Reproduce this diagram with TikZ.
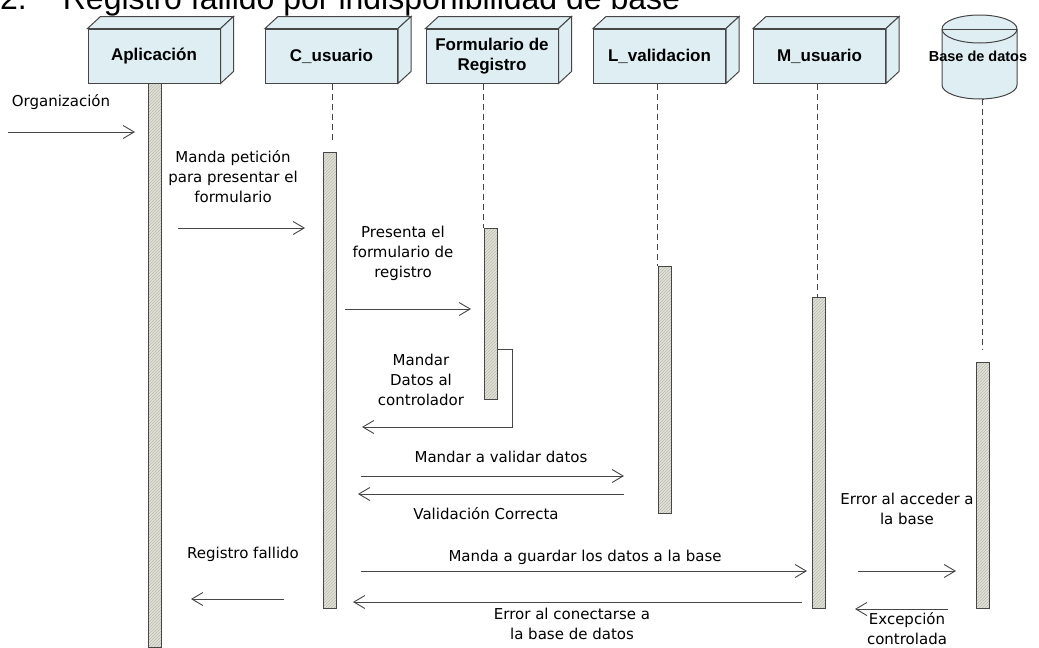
\documentclass[tikz,border=0pt]{standalone}
\usepackage{fontspec}
\setmainfont{Liberation Sans}
\newfontfamily\msgfont{DejaVu Sans}
\usetikzlibrary{arrows.meta,patterns,positioning}

\definecolor{azulcaja}{RGB}{222,238,243}
\definecolor{beigebarra}{RGB}{226,227,212}
\definecolor{lineagris}{RGB}{70,70,70}

\tikzset{
  caja/.style={draw=lineagris, fill=azulcaja, line width=1pt, minimum width=132pt,
    minimum height=54pt, align=center, font=\fontsize{17}{20}\selectfont\bfseries},
  cara/.style={draw=lineagris, fill=azulcaja, line width=1pt},
  barra/.style={draw=lineagris, line width=0.9pt, minimum width=13pt, inner sep=0pt,
    preaction={fill=beigebarra}, pattern=north east lines, pattern color=black!28},
  vida/.style={draw=lineagris, line width=0.8pt, dash pattern=on 6pt off 4pt},
  msj/.style={draw=lineagris, line width=0.9pt,
    -{Straight Barb[length=11pt,width=13pt,line width=0.9pt]}},
  etq/.style={font=\msgfont\fontsize{15}{20}\selectfont, align=center, inner sep=0pt},
}

\begin{document}
\begin{tikzpicture}[x=1pt,y=-1pt]
    \useasboundingbox (0,0) rectangle (1039,648);
    \clip (0,0) rectangle (1039,648);

    % Title (cut at the top)
    \node[anchor=base west, inner sep=0pt, font=\fontsize{32}{38}\selectfont] (titulo) at (0,9)
        {2.\hspace{36pt}Registro fallido por indisponibilidad de base};

    % Objects
    \node[caja] (apl)  at (154,56)   {Aplicación};
    \node[caja] (cusr) at (331.5,56) {C\_usuario};
    \node[caja] (form) at (492,56)   {Formulario de\\Registro};
    \node[caja] (lval) at (659.5,56) {L\_validacion};
    \node[caja] (musr) at (819.5,56) {M\_usuario};

    \foreach \n in {apl,cusr,form,lval,musr} {
        \filldraw[cara] (\n.north west) -- ++(13,-12) -- ([shift={(13,-12)}]\n.north east)
            -- (\n.north east) -- cycle;
        \filldraw[cara] (\n.north east) -- ++(13,-12) -- ([shift={(13,-12)}]\n.south east)
            -- (\n.south east) -- cycle;
    }

    % Database cylinder
    \filldraw[cara] (942,29) -- (942,85) arc[start angle=180, end angle=360, x radius=37.5pt, y radius=14pt]
        -- (1017,29) arc[start angle=0, end angle=180, x radius=37.5pt, y radius=14pt] -- cycle;
    \draw[cara, fill=none] (942,29) arc[start angle=180, end angle=360, x radius=37.5pt, y radius=14pt];
    \draw[cara] (942,29) -- (1017,29);
    \node[font=\fontsize{14.5}{17}\selectfont\bfseries, inner sep=0pt] (bd) at (978,56) {Base de datos};
    \coordinate (bdbase) at (983,99);

    % Activation bars
    \node[barra, anchor=north, minimum height=564pt] (bapl)  at (154.5,83) {};
    \node[barra, anchor=north, minimum height=456pt] (bcusr) at (329.5,152) {};
    \node[barra, anchor=north, minimum height=171pt] (bform) at (490.5,228) {};
    \node[barra, anchor=north, minimum height=247pt] (blval) at (664.5,266) {};
    \node[barra, anchor=north, minimum height=311pt] (bmusr) at (819,297) {};
    \node[barra, anchor=north, minimum height=246pt] (bbd)   at (982.5,362) {};

    % Lifelines
    \draw[vida, shorten >=12pt] ([xshift=2.5pt]bcusr.north |- cusr.south) -- ([xshift=2.5pt]bcusr.north);
    \draw[vida] (bform.north west |- form.south) -- (bform.north west);
    \draw[vida] (blval.north west |- lval.south) -- (blval.north west);
    \draw[vida] ([xshift=-2pt]bmusr.north |- musr.south) -- ([xshift=-2pt]bmusr.north);
    \draw[vida, shorten >=12pt] (bdbase) -- (bbd.north |- bdbase) -- (bbd.north);

    % Messages
    \coordinate (m1a) at (8,132);    \coordinate (m1b) at (135,132);
    \coordinate (m2a) at (178,228);  \coordinate (m2b) at (305,228);
    \coordinate (m3a) at (345,309);  \coordinate (m3b) at (471,309);
    \coordinate (m4a) at (512,349);  \coordinate (m4b) at (362,427);
    \coordinate (m5a) at (361,476);  \coordinate (m5b) at (624,476);
    \coordinate (m6a) at (624,494);  \coordinate (m6b) at (358,494);
    \coordinate (m7a) at (361,571);  \coordinate (m7b) at (807,571);
    \coordinate (m8a) at (284,599);  \coordinate (m8b) at (191,599);
    \coordinate (m9a) at (802,602);  \coordinate (m9b) at (353,602);
    \coordinate (m10a) at (858,571); \coordinate (m10b) at (956,571);
    \coordinate (m11a) at (948,609); \coordinate (m11b) at (855,609);

    \draw[msj] (m1a) -- (m1b);
    \draw[msj] (m2a) -- (m2b);
    \draw[msj] (m3a) -- (m3b);
    \draw[msj] (bform.east |- m4a) -- (m4a) |- (m4b);
    \draw[msj] (m5a) -- (m5b);
    \draw[msj] (m6a) -- (m6b);
    \draw[msj] (m7a) -- (m7b);
    \draw[msj] (m8a) -- (m8b);
    \draw[msj] (m9a) -- (m9b);
    \draw[msj] (m10a) -- (m10b);
    \draw[msj] (m11a) -- (m11b);

    % Labels
    \node[etq] (e1)  at (61,102)   {Organización};
    \node[etq] (e2)  at (233,177)  {Manda petición\\para presentar el\\formulario};
    \node[etq] (e3)  at (403,253)  {Presenta el\\formulario de\\registro};
    \node[etq] (e4)  at (421,380)  {Mandar\\Datos al\\controlador};
    \node[etq] (e5)  at (501,457)  {Mandar a validar datos};
    \node[etq] (e6)  at (486,514)  {Validación Correcta};
    \node[etq] (e7)  at (585,557)  {Manda a guardar los datos a la base};
    \node[etq] (e8)  at (243,554)  {Registro fallido};
    \node[etq] (e9)  at (572,624)  {Error al conectarse a\\la base de datos};
    \node[etq] (e10) at (907,509)  {Error al acceder a\\la base};
    \node[etq] (e11) at (907,629)  {Excepción\\controlada};
\end{tikzpicture}
\end{document}
